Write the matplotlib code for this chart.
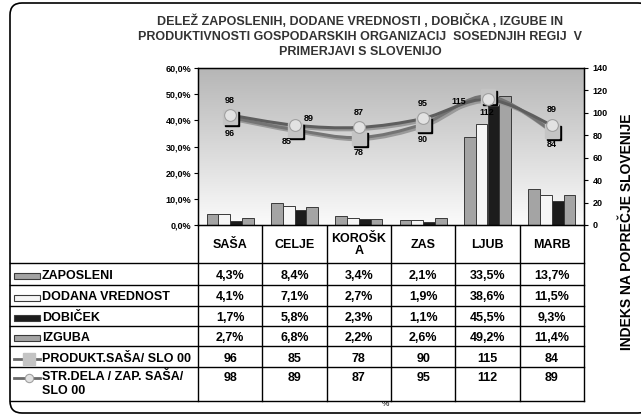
import numpy as np
import matplotlib
matplotlib.use('Agg')
import matplotlib.pyplot as plt
from matplotlib.path import Path
from matplotlib.patches import PathPatch, Rectangle, FancyBboxPatch
from matplotlib.colors import LinearSegmentedColormap
import matplotlib.transforms as mtransforms

plt.rcParams['font.family'] = ['Liberation Sans', 'DejaVu Sans']
plt.rcParams['font.weight'] = 'bold'

# data
regions = ['SAŠA', 'CELJE', 'KOROŠK\nA', 'ZAS', 'LJUB', 'MARB']
zaposleni = [4.3, 8.4, 3.4, 2.1, 33.5, 13.7]
dodana = [4.1, 7.1, 2.7, 1.9, 38.6, 11.5]
dobicek = [1.7, 5.8, 2.3, 1.1, 45.5, 9.3]
izguba = [2.7, 6.8, 2.2, 2.6, 49.2, 11.4]
produkt = [96, 85, 78, 90, 115, 84]
str_dela = [98, 89, 87, 95, 112, 89]
bar_names = ['ZAPOSLENI', 'DODANA VREDNOST', 'DOBIČEK', 'IZGUBA']
line_names = ['PRODUKT.SAŠA/ SLO 00', 'STR.DELA / ZAP. SAŠA/\nSLO 00']
left_ticks = [0, 10, 20, 30, 40, 50, 60]
right_ticks = [0, 20, 40, 60, 80, 100, 120, 140]

W, H = 641, 416
bar_colors = ['#a4a4a4', '#f6f6f6', '#1c1c1c', '#a4a4a4']
line_color = '#6a6a6a'
fs = 9

fig = plt.figure(figsize=(W / 100, H / 100), dpi=100)

# overlay for table, frame and titles (pixel coords)
tab = fig.add_axes([0, 0, 1, 1], zorder=0)
tab.set_xlim(0, W)
tab.set_ylim(H, 0)
tab.axis('off')

tab.add_patch(FancyBboxPatch((10, 3), 640, 410, boxstyle='round,pad=0,rounding_size=12',
                             fc='white', ec='black', lw=1.2))

ax_l, ax_r, ax_t, ax_b = 198, 584, 68, 225
ax = fig.add_axes([ax_l / W, 1 - ax_b / H, (ax_r - ax_l) / W, (ax_b - ax_t) / H], zorder=2)
n = len(regions)
x = np.arange(n)
ax.set_xlim(-0.5, n - 0.5)
ax.set_ylim(0, 60)

grad = LinearSegmentedColormap.from_list('g', ['#b6b6b6', '#fbfbfb'])
ax.imshow(np.linspace(0, 1, 256).reshape(-1, 1), cmap=grad, extent=[-0.5, n - 0.5, 0, 60],
          aspect='auto', zorder=0)

bw = 0.183
for k, vals in enumerate([zaposleni, dodana, dobicek, izguba]):
    ax.bar(x + (k - 1.5) * bw, vals, bw, color=bar_colors[k], edgecolor='#3a3a3a',
           linewidth=0.7, zorder=2)

ax.set_xticks([])
ax.set_yticks(left_ticks)
ax.set_yticklabels([f'{t:.1f}%'.replace('.', ',') for t in left_ticks], fontsize=6.5)
ax.tick_params(axis='y', length=3, width=0.8, pad=2)
for s in ax.spines.values():
    s.set_linewidth(1.0)

ax2 = ax.twinx()
ax2.set_ylim(0, 140)
ax2.set_yticks(right_ticks)
ax2.set_yticklabels([str(t) for t in right_ticks], fontsize=6.5)
ax2.tick_params(axis='y', length=3, width=0.8, pad=3)


def smooth_path(xs, ys):
    pts = np.column_stack([xs, ys]).astype(float)
    verts = [pts[0]]
    codes = [Path.MOVETO]
    m = len(pts)
    for i in range(m - 1):
        p0 = pts[max(i - 1, 0)]
        p1 = pts[i]
        p2 = pts[i + 1]
        p3 = pts[min(i + 2, m - 1)]
        verts += [p1 + (p2 - p0) / 6, p2 - (p3 - p1) / 6, p2]
        codes += [Path.CURVE4] * 3
    return Path(verts, codes)


shadow = mtransforms.offset_copy(ax2.transData, fig=fig, x=2, y=-2, units='dots')
for vals, lc in [(produkt, '#747474'), (str_dela, '#5e5e5e')]:
    ax2.add_patch(PathPatch(smooth_path(x, vals), fill=False, ec='#9a9a9a', lw=2.2,
                            transform=shadow, zorder=3))
    ax2.add_patch(PathPatch(smooth_path(x, vals), fill=False, ec=lc, lw=2.2, zorder=4))

ax2.plot(x, produkt, 's', ms=9.5, mfc='black', mec='black', transform=shadow, zorder=5)
ax2.plot(x, produkt, 's', ms=9.5, mfc='#c4c4c4', mec='#c4c4c4', zorder=6)
ax2.plot(x, str_dela, 'o', ms=8.5, mfc='#e2e2e2', mec='#a0a0a0', mew=0.8, zorder=7)

str_off = [(0, 15), (14, 7), (0, 15), (0, 15), (-1, -13), (0, 16)]
prod_off = [(0, -16), (-8, -12), (0, -15), (0, -15), (-29, -5), (0, -14)]
for i in range(n):
    ax2.annotate(str(str_dela[i]), (x[i], str_dela[i]), xytext=str_off[i],
                 textcoords='offset pixels', ha='center', va='center', fontsize=6.5, zorder=8)
    ax2.annotate(str(produkt[i]), (x[i], produkt[i]), xytext=prod_off[i],
                 textcoords='offset pixels', ha='center', va='center', fontsize=6.5, zorder=8)

# title
title_lines = ['DELEŽ ZAPOSLENIH, DODANE VREDNOSTI , DOBIČKA , IZGUBE IN',
               'PRODUKTIVNOSTI GOSPODARSKIH ORGANIZACIJ  SOSEDNJIH REGIJ  V',
               'PRIMERJAVI S SLOVENIJO']
for j, line in enumerate(title_lines):
    tab.text(360, 21 + 15.5 * j, line, ha='center', va='center', fontsize=9, color='#333333')

tab.text(627, 232, 'INDEKS NA POPREČJE SLOVENIJE', rotation=90, ha='center', va='center',
         fontsize=10)
tab.text(385, 405, '%', ha='center', va='center', fontsize=6, fontweight='normal')

# data table
col_w = (ax_r - ax_l) / n
col_edges = [ax_l + col_w * i for i in range(n + 1)]
row_edges = [225, 263, 285, 306, 326, 346, 367, 401]
for ce in col_edges:
    tab.plot([ce, ce], [225, 401], color='black', lw=1.0)
for re in row_edges[1:]:
    tab.plot([10, ax_r], [re, re], color='black', lw=1.0)

for i, name in enumerate(regions):
    tab.text(col_edges[i] + col_w / 2, 245, name, ha='center', va='center', fontsize=fs,
             linespacing=1.05)

bar_rows = [zaposleni, dodana, dobicek, izguba]
for r, vals in enumerate(bar_rows):
    yc = (row_edges[r + 1] + row_edges[r + 2]) / 2 + 2
    tab.add_patch(Rectangle((14, yc - 3), 26, 6, fc=bar_colors[r], ec='#3a3a3a', lw=0.8))
    tab.text(42, yc, bar_names[r], ha='left', va='center', fontsize=fs)
    for i, v in enumerate(vals):
        tab.text(col_edges[i] + col_w / 2, yc, f'{v:.1f}%'.replace('.', ','), ha='center',
                 va='center', fontsize=fs)

yc = (row_edges[5] + row_edges[6]) / 2 + 2
tab.plot([14, 40], [yc, yc], color=line_color, lw=2)
tab.plot([29], [yc], 's', ms=8.5, mfc='#c4c4c4', mec='#c4c4c4')
tab.text(42, yc, line_names[0], ha='left', va='center', fontsize=fs)
for i, v in enumerate(produkt):
    tab.text(col_edges[i] + col_w / 2, yc, str(v), ha='center', va='center', fontsize=fs)

yc = 378
tab.plot([14, 40], [yc, yc], color=line_color, lw=2)
tab.plot([29], [yc], 'o', ms=6, mfc='#e2e2e2', mec='#a0a0a0', mew=0.8)
tab.text(42, yc - 7, line_names[1], ha='left', va='top', fontsize=fs, linespacing=1.2)
for i, v in enumerate(str_dela):
    tab.text(col_edges[i] + col_w / 2, yc, str(v), ha='center', va='center', fontsize=fs)

fig.savefig('out.png', dpi=100)
